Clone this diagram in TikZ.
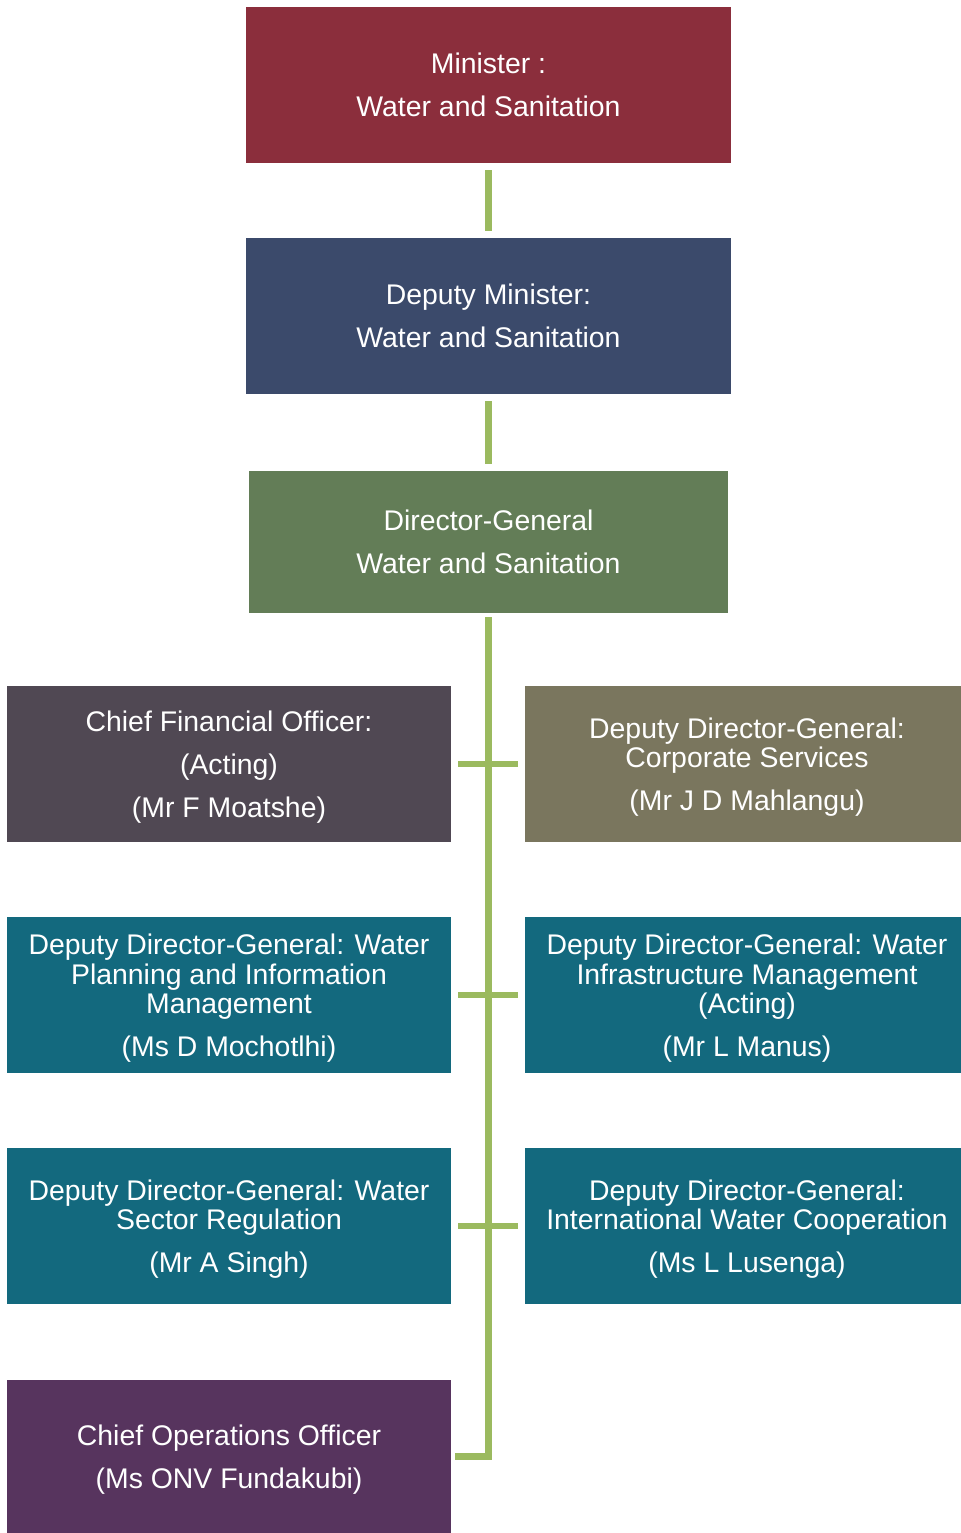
\documentclass[tikz,border=0pt]{standalone}
\usepackage{fontspec}
\setmainfont{Liberation Sans}
\usepackage{tikz}
\usetikzlibrary{positioning}

\definecolor{minred}{HTML}{8B2E3C}
\definecolor{depblue}{HTML}{3B4A6B}
\definecolor{dggreen}{HTML}{637D57}
\definecolor{cfogrey}{HTML}{504853}
\definecolor{corpolive}{HTML}{7A765E}
\definecolor{ddgteal}{HTML}{13697E}
\definecolor{coopurple}{HTML}{57345E}
\definecolor{linkgreen}{HTML}{9BBA5F}

\newcommand{\topstrut}{\rule{0pt}{13.6pt}}

\begin{document}
\begin{tikzpicture}[x=0.5pt,y=-0.5pt]
\tikzset{
  box/.style={rectangle, inner sep=0pt, text=white, align=center,
    minimum height=78pt, font=\fontsize{14.2}{14.6}\selectfont},
  topbox/.style={box, minimum width=242.5pt},
  sidebox/.style={box, minimum width=222pt},
  link/.style={draw=linkgreen, line width=3.2pt, shorten <=3.5pt, shorten >=3.5pt}
}
\useasboundingbox (0,0) rectangle (961,1533);
% top of the chart
\node [topbox, fill=minred] (min) at (488.5,85) {Minister :\\[7pt]Water and Sanitation};
\node [topbox, fill=depblue] (dmin) at (488.5,316) {Deputy Minister:\\[7pt]Water and Sanitation};
\node [topbox, fill=dggreen, minimum width=239.5pt, minimum height=71pt] (dg) at (488.5,542) {Director-General\\[7pt]Water and Sanitation};
% branches
\node [sidebox, fill=cfogrey] (cfo) at (229,764) {\topstrut Chief Financial Officer:\\[7pt](Acting)\\[7pt](Mr F Moatshe)};
\node [sidebox, fill=corpolive] (corp) at (747,764) {\topstrut Deputy Director-General:\\Corporate Services\\[7pt](Mr J D Mahlangu)};
\node [sidebox, fill=ddgteal] (wpim) at (229,995) {\topstrut Deputy Director-General: Water\\Planning and Information\\Management\\[7pt](Ms D Mochotlhi)};
\node [sidebox, fill=ddgteal] (wim) at (747,995) {\topstrut Deputy Director-General: Water\\Infrastructure Management\\(Acting)\\[7pt](Mr L Manus)};
\node [sidebox, fill=ddgteal] (wsr) at (229,1226) {\topstrut Deputy Director-General: Water\\Sector Regulation\\[7pt](Mr A Singh)};
\node [sidebox, fill=ddgteal] (iwc) at (747,1226) {\topstrut Deputy Director-General:\\International Water Cooperation\\[7pt](Ms L Lusenga)};
\node [sidebox, fill=coopurple, minimum height=76.5pt] (coo) at (229,1456.5) {\topstrut Chief Operations Officer\\[7pt](Ms ONV Fundakubi)};
% connectors
\draw [link] (min) -- (dmin);
\draw [link] (dmin) -- (dg);
\draw [link, line cap=rect] (dg.south) |- (coo.east);
\draw [link] (cfo.east) -- (corp.west);
\draw [link] (wpim.east) -- (wim.west);
\draw [link] (wsr.east) -- (iwc.west);
\end{tikzpicture}
\end{document}
